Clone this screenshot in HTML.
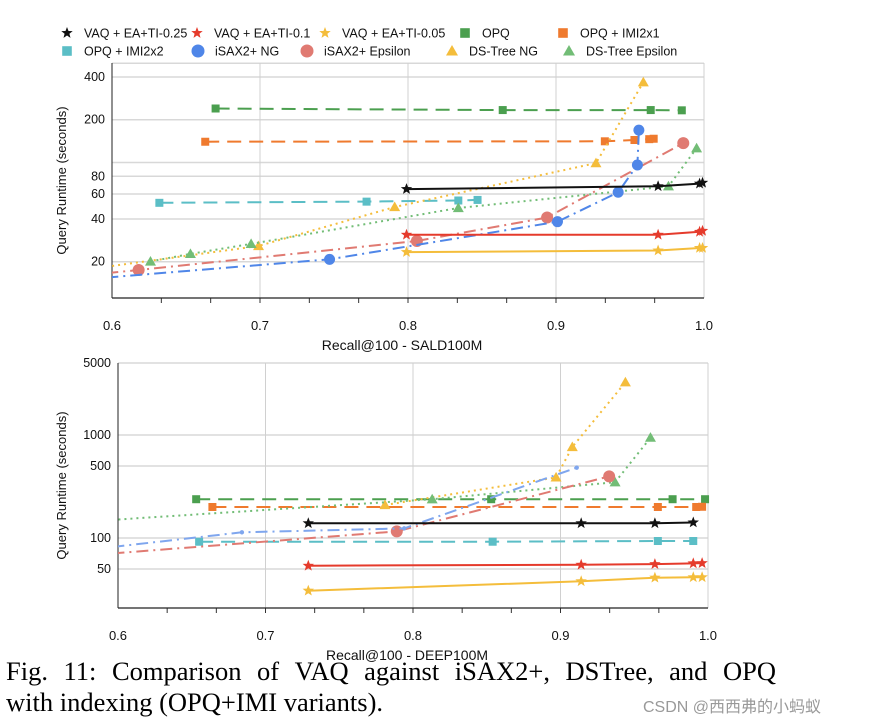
<!DOCTYPE html>
<html><head><meta charset="utf-8">
<style>
body{margin:0;background:#fff;width:871px;height:723px;overflow:hidden;position:relative;font-family:"Liberation Sans",sans-serif}
svg{position:absolute;left:0;top:0}
.cap{position:absolute;left:6px;top:656px;width:770px;font-family:"Liberation Serif",serif;font-size:26.5px;line-height:31px;color:#000}
.cap .l1{white-space:nowrap;display:flex;justify-content:space-between}
.wm{position:absolute;left:643px;top:693px;font-family:"Liberation Sans","Noto Sans CJK SC",sans-serif;font-size:16px;color:#999}
</style></head><body>
<svg id="svg" width="871" height="723"></svg>
<div class="cap"><div class="l1"><span>Fig.</span><span>11:</span><span>Comparison</span><span>of</span><span>VAQ</span><span>against</span><span>iSAX2+,</span><span>DSTree,</span><span>and</span><span>OPQ</span></div><div>with indexing (OPQ+IMI variants).</div></div>
<div class="wm">CSDN @西西弗的小蚂蚁</div>
<script>
// ---- Top chart (SALD100M) data ----
const topVAQ25R=[0.799,0.969,0.997,0.999], topVAQ25V=[65,68,71,72];
const topVAQ10R=[0.799,0.969,0.997,0.999], topVAQ10V=[31,31,32.5,33];
const topVAQ05R=[0.799,0.969,0.997,0.999], topVAQ05V=[23.4,24,25,25];
const topOPQR=[0.670,0.864,0.964,0.985], topOPQV=[240,234,234,233];
const topIMI1R=[0.663,0.933,0.953,0.963,0.966], topIMI1V=[140,141,144,146,147];
const topIMI2R=[0.632,0.772,0.834,0.847], topIMI2V=[52,53,54,54.5];
const topNGR=[0.58,0.747,0.901,0.942,0.955,0.956], topNGV=[15,20.8,38.3,61.7,96,169];
const topEpsR=[0.58,0.618,0.806,0.894,0.986], topEpsV=[16,17.5,28,41,137];
const topDNGR=[0.58,0.699,0.791,0.927,0.959], topDNGV=[17.5,25.8,48.6,99,367];
const topDEpR=[0.626,0.653,0.694,0.834,0.976,0.995], topDEpV=[20.1,22.7,26.7,47.8,68,126];
const topYTicks=[400,200,80,60,40,20], topYGrid=[500,400,200,100,80,60,40,20];
// ---- Bottom chart (DEEP100M) data ----
const botVAQ25R=[0.729,0.914,0.964,0.990], botVAQ25V=[139,139,139,141.5];
const botVAQ10R=[0.729,0.914,0.964,0.990,0.996], botVAQ10V=[53.8,55,55.8,56.7,57];
const botVAQ05R=[0.729,0.914,0.964,0.990,0.996], botVAQ05V=[30.8,38,41.2,41.6,41.6];
const botOPQR=[0.653,0.853,0.976,0.998], botOPQV=[238,238,238,238];
const botIMI1R=[0.664,0.966,0.992,0.996], botIMI1V=[200,200,200,201];
const botIMI2R=[0.655,0.854,0.966,0.990], botIMI2V=[92,92,93.5,93.5];
const botNGR=[0.58,0.684,0.794,0.911], botNGV=[77,113.6,124,482];
const botEpsR=[0.58,0.789,0.933], botEpsV=[68,116,397];
const botDNGR=[0.781,0.897,0.908,0.944], botDNGV=[209,388,764,3250];
const botDEpR=[0.58,0.813,0.937,0.961], botDEpV=[145,238,348,942];
const botYTicks=[5000,1000,500,100,50], botYGrid=[5000,1000,500,100,50];
const xTicks=[0.6,0.7,0.8,0.9,1.0];

const NS="http://www.w3.org/2000/svg", svg=document.getElementById('svg');
function mk(tag,attrs,parent){const e=document.createElementNS(NS,tag);for(const k in attrs)e.setAttribute(k,attrs[k]);(parent||svg).appendChild(e);return e;}
const C={black:'#111',red:'#e53b2c',yel:'#f4bd3b',green:'#4b9f4f',orange:'#ef7a2e',teal:'#5bbec6',blue:'#4f86e8',salmon:'#e07a72',dgreen:'#72bd76'};
function marker(g,type,x,y,col,s){
  if(type==='star'){let p=[];for(let i=0;i<10;i++){const r=i%2?s*0.42:s;const a=-Math.PI/2+i*Math.PI/5;p.push((x+r*Math.cos(a)).toFixed(1)+','+(y+r*Math.sin(a)).toFixed(1));}
    const e=mk('polygon',{points:p.join(' '),fill:col},g);}
  else if(type==='sq'){const e=mk('rect',{x:x-s*0.8,y:y-s*0.8,width:s*1.6,height:s*1.6,fill:col},g);}
  else if(type==='circ'){const e=mk('circle',{cx:x,cy:y,r:s,fill:col},g);}
  else if(type==='dot'){const e=mk('circle',{cx:x,cy:y,r:s*0.4,fill:col},g);}
  else if(type==='tri'){const e=mk('polygon',{points:`${x},${y-s} ${x-s},${y+s*0.75} ${x+s},${y+s*0.75}`,fill:col},g);}
}
function chart(id,cfg){
  const g=mk('g',{});
  const X=r=>cfg.x0+(r-0.6)/0.4*(cfg.x1-cfg.x0);
  const Y=v=>cfg.yRefPx+(Math.log10(cfg.yRef)-Math.log10(v))*cfg.dec;
  const cid='clip'+id;const cp=mk('clipPath',{id:cid},g);mk('rect',{x:cfg.x0,y:cfg.top-10,width:cfg.x1-cfg.x0+10,height:cfg.bot-cfg.top+10},cp);
  cfg.grid.forEach(v=>{const e=mk('line',{x1:cfg.x0,x2:cfg.x1,y1:Y(v),y2:Y(v),stroke:'#d8d8d8','stroke-width':1.5},g);});
  xTicks.forEach(t=>{if(t>0.6){const e=mk('line',{x1:X(t),x2:X(t),y1:cfg.top,y2:cfg.bot,stroke:'#d0d0d0','stroke-width':1},g);}
    const l=mk('text',{x:X(t),y:cfg.bot+32,'font-size':13,'text-anchor':'middle',fill:'#111'},g);l.textContent=t.toFixed(1);});
  for(let k=1;k<12;k++){const r=0.6+k*0.4/12;const e=mk('line',{x1:X(r),x2:X(r),y1:cfg.bot,y2:cfg.bot+5,stroke:'#333','stroke-width':1},g);}
  const ax=mk('line',{x1:cfg.x0,x2:cfg.x1,y1:cfg.bot,y2:cfg.bot,stroke:'#222','stroke-width':1.3},g);
  const ay=mk('line',{x1:cfg.x0,x2:cfg.x0,y1:cfg.top,y2:cfg.bot,stroke:'#222','stroke-width':1},g);
  cfg.yt.forEach(v=>{const l=mk('text',{x:cfg.x0-7,y:Y(v)+4,'font-size':12.5,'text-anchor':'end',fill:'#111'},g);l.textContent=v;});
  const xt=mk('text',{x:(cfg.x0+cfg.x1)/2-6,y:cfg.bot+52,'font-size':14,'text-anchor':'middle',fill:'#111'},g);xt.textContent=cfg.xtitle;
  const yt=mk('text',{x:0,y:0,'font-size':13,'text-anchor':'middle',fill:'#111',transform:`translate(66,${(cfg.top+cfg.bot)/2}) rotate(-90)`},g);yt.textContent='Query Runtime (seconds)';
  cfg.series.forEach(s=>{
    const sg=mk('g',{'clip-path':`url(#${cid})`},g);
    const pts=s.r.map((r,i)=>X(r).toFixed(1)+','+Y(s.v[i]).toFixed(1)).join(' ');
    const pl=mk('polyline',{points:pts,fill:'none',stroke:s.c,'stroke-width':s.w||2,'stroke-dasharray':s.d||'none'},sg);
    s.r.forEach((r,i)=>marker(sg,s.m,X(r),Y(s.v[i]),s.c,s.ms));
  });
}
const dashL='14,8', dashDot='12,5,2,5', dot='2,4';
function seriesSet(p){return [
 {name:'opq-imi2x2',r:p.IMI2R,v:p.IMI2V,c:C.teal,d:dashL,m:'sq',ms:5},
 {name:'opq',r:p.OPQR,v:p.OPQV,c:C.green,d:dashL,m:'sq',ms:5},
 {name:'opq-imi2x1',r:p.IMI1R,v:p.IMI1V,c:C.orange,d:dashL,m:'sq',ms:5},
 {name:'dstree-ng',r:p.DNGR,v:p.DNGV,c:C.yel,d:dot,m:'tri',ms:5.5},
 {name:'dstree-epsilon',r:p.DEpR,v:p.DEpV,c:C.dgreen,d:dot,m:'tri',ms:5.5},
 {name:'isax-epsilon',r:p.EpsR,v:p.EpsV,c:C.salmon,d:dashDot,m:'circ',ms:6},
 {name:'isax-ng',r:p.NGR,v:p.NGV,c:p.blue,d:dashDot,m:p.ngm,ms:5.5},
 {name:'vaq-0.05',r:p.V05R,v:p.V05V,c:C.yel,m:'star',ms:6},
 {name:'vaq-0.1',r:p.V10R,v:p.V10V,c:C.red,m:'star',ms:6},
 {name:'vaq-0.25',r:p.V25R,v:p.V25V,c:C.black,m:'star',ms:6}];}
chart('top-chart',{x0:112,x1:704,top:63,bot:298,yRef:400,yRefPx:77,dec:142,grid:topYGrid,yt:topYTicks,xtitle:'Recall@100 - SALD100M',
 series:seriesSet({IMI2R:topIMI2R,IMI2V:topIMI2V,OPQR:topOPQR,OPQV:topOPQV,IMI1R:topIMI1R,IMI1V:topIMI1V,DNGR:topDNGR,DNGV:topDNGV,DEpR:topDEpR,DEpV:topDEpV,EpsR:topEpsR,EpsV:topEpsV,NGR:topNGR,NGV:topNGV,blue:C.blue,ngm:'circ',V05R:topVAQ05R,V05V:topVAQ05V,V10R:topVAQ10R,V10V:topVAQ10V,V25R:topVAQ25R,V25V:topVAQ25V})});
chart('bottom-chart',{x0:118,x1:708,top:363,bot:608,yRef:1000,yRefPx:435,dec:103,grid:botYGrid,yt:botYTicks,xtitle:'Recall@100 - DEEP100M',
 series:seriesSet({IMI2R:botIMI2R,IMI2V:botIMI2V,OPQR:botOPQR,OPQV:botOPQV,IMI1R:botIMI1R,IMI1V:botIMI1V,DNGR:botDNGR,DNGV:botDNGV,DEpR:botDEpR,DEpV:botDEpV,EpsR:botEpsR,EpsV:botEpsV,NGR:botNGR,NGV:botNGV,blue:'#7fa6ee',ngm:'dot',V05R:botVAQ05R,V05V:botVAQ05V,V10R:botVAQ10R,V10V:botVAQ10V,V25R:botVAQ25R,V25V:botVAQ25V})});
// legend
const legNames=['VAQ + EA+TI-0.25','VAQ + EA+TI-0.1','VAQ + EA+TI-0.05','OPQ','OPQ + IMI2x1','OPQ + IMI2x2','iSAX2+ NG','iSAX2+ Epsilon','DS-Tree NG','DS-Tree Epsilon'];
const legX=[67,197,325,465,563,67,198,307,452,569];
const legM=['star','star','star','sq','sq','sq','circ','circ','tri','tri'];
const legC=[C.black,C.red,C.yel,C.green,C.orange,C.teal,C.blue,C.salmon,C.yel,C.dgreen];
const lg=mk('g',{});
legNames.forEach((n,i)=>{const y=i<5?33:51;const eg=mk('g',{},lg);
 marker(eg,legM[i],legX[i],y,legC[i],legM[i]==='circ'?6.5:6);
 const t=mk('text',{x:legX[i]+17,y:y+4.5,'font-size':12.5,fill:'#111'},eg);t.textContent=n;});
</script>
</body></html>
